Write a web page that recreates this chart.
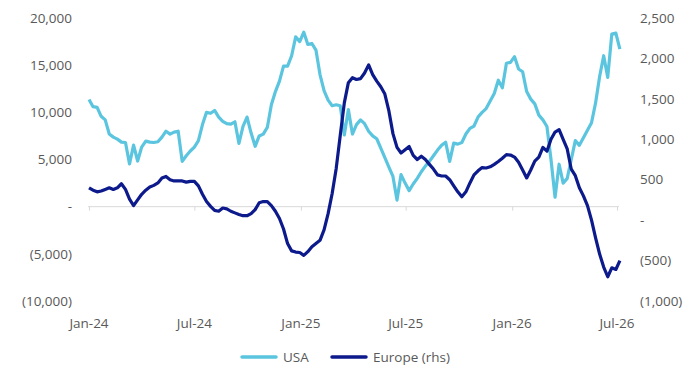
<!DOCTYPE html>
<html>
<head>
<meta charset="utf-8">
<script src="https://cdn.jsdelivr.net/npm/d3@7"></script>
<style>
  body { margin: 0; background: #fff; }
  text { font-family: 'Open Sans', 'Noto Sans', sans-serif; fill: #595959; }
</style>
</head>
<body>
<div id="chart"></div>
<script>
// Weekly series, first observation on this Monday
const firstWeek = '2024-01-01';

const usaValues = [
  11370, 10600, 10530, 9580, 9200, 7700, 7370, 7160, 6840, 6800,
  4530, 6530, 4840, 6320, 6950, 6840, 6800, 6880, 7370, 8000,
  7690, 7900, 8000, 4800, 5400, 5900, 6320, 7000, 8700, 10000,
  9900, 10200, 9500, 9050, 8800, 8750, 9000, 6700, 8500, 9500,
  7800, 6400, 7500, 7690, 8400, 10800, 12200, 13300, 14900, 14900,
  16000, 18000, 17500, 18500, 17200, 17300, 16600, 14000, 12300, 11300,
  10700, 10800, 10700, 7600, 10300, 7700, 8700, 9200, 8800, 8000,
  7500, 7200, 6200, 5200, 4200, 3200, 700, 3400, 2500, 1700,
  2400, 3000, 3700, 4300, 4800, 5400, 6000, 6500, 6840, 4800,
  6740, 6630, 6800, 7700, 8300, 8550, 9500, 10000, 10400, 11200,
  12000, 13400, 12600, 15200, 15300, 15900, 14600, 14300, 12200, 11400,
  10900, 9700, 9200, 8500, 5000, 1000, 4500, 2500, 3000, 5000,
  7000, 6500, 7300, 8100, 8900, 11000, 13800, 16000, 13700, 18300,
  18400, 16700
];

const europeValues = [
  400, 370, 350, 360, 380, 400, 380, 400, 450, 380,
  260, 180, 250, 320, 370, 410, 430, 460, 520, 540,
  500, 485, 485, 485, 470, 480, 480, 424, 320, 230,
  170, 120, 110, 150, 140, 110, 90, 70, 55, 55,
  80, 130, 215, 230, 230, 180, 110, 20, -110, -290,
  -380, -395, -400, -436, -390, -330, -290, -250, -120, 80,
  330, 640, 1050, 1450, 1700, 1762, 1740, 1750, 1820, 1920,
  1800, 1720, 1650, 1560, 1350, 1070, 900, 830, 870, 910,
  800, 750, 790, 750, 690, 632, 560, 546, 546, 500,
  424, 350, 290, 350, 460, 560, 610, 650, 645, 660,
  690, 725, 765, 810, 805, 780, 715, 620, 522, 620,
  730, 780, 900, 853, 1000, 1090, 1120, 1000, 880, 630,
  550, 400, 300, 180, 0, -220, -420, -580, -700, -590,
  -610, -500
];

const leftTicks = [-10000, -5000, 0, 5000, 10000, 15000, 20000];
const rightTicks = [-1000, -500, 0, 500, 1000, 1500, 2000, 2500];
const xTickDates = ['2024-01-01', '2024-07-01', '2025-01-01', '2025-07-01', '2026-01-01', '2026-07-01'];
const seriesNames = ['USA', 'Europe (rhs)'];
const seriesColors = ['#5bc5df', '#0c1a8c'];

const width = 700;
const height = 385;
const margin = { top: 18, right: 81, bottom: 82, left: 89 };

const parse = d3.timeParse('%Y-%m-%d');
const start = parse(firstWeek);
const dateAt = (i) => d3.timeDay.offset(start, 7 * i);

const usa = usaValues.map((v, i) => ({ date: dateAt(i), value: v }));
const europe = europeValues.map((v, i) => ({ date: dateAt(i), value: v }));

const svg = d3
  .select('#chart')
  .append('svg')
  .attr('width', width)
  .attr('height', height);

const x = d3
  .scaleTime()
  .domain([parse('2024-01-01'), parse('2026-07-01')])
  .range([margin.left, 617]);

const yLeft = d3
  .scaleLinear()
  .domain([-10000, 20000])
  .range([height - margin.bottom - 2, margin.top]);

const yRight = d3
  .scaleLinear()
  .domain([-1000, 2500])
  .range([height - margin.bottom - 2, margin.top]);

// bracket negatives, dash for zero
const fmt = (v) => {
  if (v === 0) return '-';
  const s = d3.format(',')(Math.abs(v));
  return v < 0 ? `(${s})` : s;
};

// Left axis labels
svg
  .selectAll('.lt')
  .data(leftTicks)
  .join('text')
  .attr('class', 'lt')
  .attr('x', 72)
  .attr('y', (d) => yLeft(d))
  .attr('dy', '0.35em')
  .attr('text-anchor', 'end')
  .attr('font-size', 13.5)
  .text(fmt);

// Right axis labels
svg
  .selectAll('.rt')
  .data(rightTicks)
  .join('text')
  .attr('class', 'rt')
  .attr('x', 640)
  .attr('y', (d) => yRight(d))
  .attr('dy', '0.35em')
  .attr('text-anchor', 'start')
  .attr('font-size', 13.5)
  .text(fmt);

// Horizontal axis at left zero
const xAxis = d3
  .axisBottom(x)
  .tickValues(xTickDates.map(parse))
  .tickSize(4)
  .tickFormat('');

const gx = svg
  .append('g')
  .attr('transform', `translate(0, ${yLeft(0)})`)
  .call(xAxis);
gx.select('.domain').attr('stroke', '#d9d9d9').attr('d', `M${margin.left - 1},0H619`);
gx.selectAll('.tick line').attr('stroke', '#d9d9d9');

svg
  .selectAll('.xl')
  .data(xTickDates.map(parse))
  .join('text')
  .attr('class', 'xl')
  .attr('x', (d) => x(d))
  .attr('y', 323)
  .attr('dy', '0.35em')
  .attr('text-anchor', 'middle')
  .attr('font-size', 13.5)
  .text(d3.timeFormat('%b-%y'));

// Lines
const lineLeft = d3
  .line()
  .x((d) => x(d.date))
  .y((d) => yLeft(d.value));

const lineRight = d3
  .line()
  .x((d) => x(d.date))
  .y((d) => yRight(d.value));

svg
  .append('path')
  .datum(usa)
  .attr('fill', 'none')
  .attr('stroke', seriesColors[0])
  .attr('stroke-width', 3.2)
  .attr('stroke-linejoin', 'round')
  .attr('d', lineLeft);

svg
  .append('path')
  .datum(europe)
  .attr('fill', 'none')
  .attr('stroke', seriesColors[1])
  .attr('stroke-width', 3.2)
  .attr('stroke-linejoin', 'round')
  .attr('d', lineRight);

// Legend
const legendX = [242, 332];
const legend = svg
  .selectAll('.leg')
  .data(seriesNames)
  .join('g')
  .attr('class', 'leg')
  .attr('transform', (d, i) => `translate(${legendX[i]}, 357)`);

legend
  .append('line')
  .attr('x1', 0)
  .attr('x2', 34)
  .attr('stroke', (d, i) => seriesColors[i])
  .attr('stroke-width', 3.5)
  .attr('stroke-linecap', 'round');

legend
  .append('text')
  .attr('x', 41)
  .attr('dy', '0.35em')
  .attr('font-size', 13.5)
  .text((d) => d);
</script>
</body>
</html>
